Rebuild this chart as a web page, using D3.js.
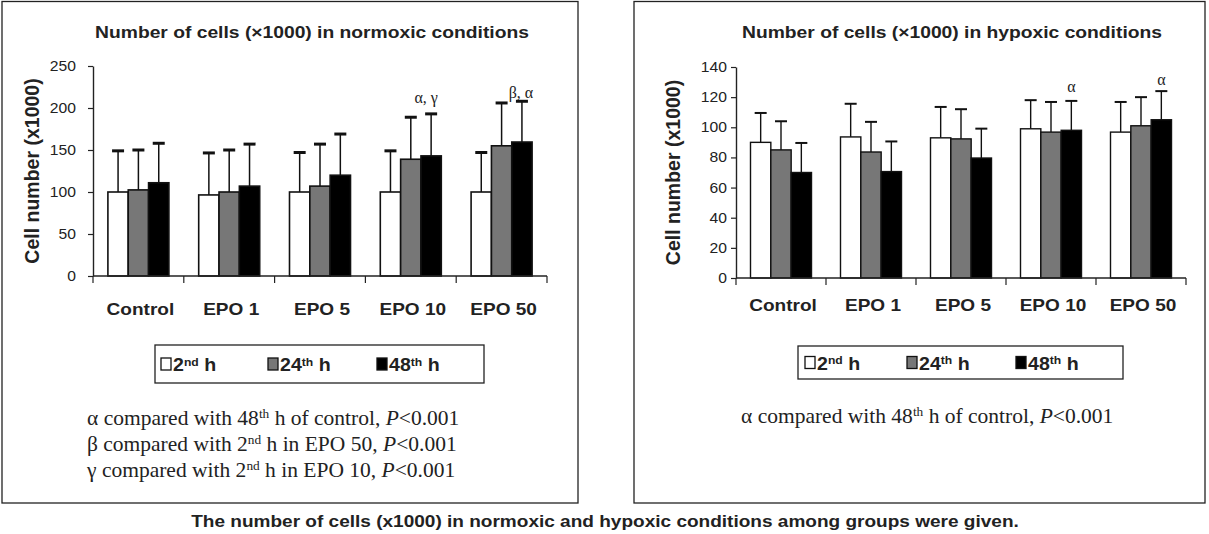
<!DOCTYPE html>
<html>
<head>
<meta charset="utf-8">
<script src="https://cdn.jsdelivr.net/npm/d3@7/dist/d3.min.js"></script>
<style>
  body { margin: 0; background: #fff; }
  svg { display: block; }
  .sans { font-family: "Liberation Sans", Arial, sans-serif; }
  .serif { font-family: "Liberation Serif", "Times New Roman", serif; }
</style>
</head>
<body>
<svg id="chart" width="1209" height="534"></svg>
<script>
// groups and series
var groups = ["Control", "EPO 1", "EPO 5", "EPO 10", "EPO 50"];
var seriesNames = ["2nd h", "24th h", "48th h"];
var seriesColors = ["#ffffff", "#777777", "#000000"];

// normoxic: means and SD (x1000 cells)
var normo2 = [100, 96.5, 100, 100, 100];
var normo24 = [102.5, 100, 107, 139, 155];
var normo48 = [111, 107, 120, 143, 159.5];
var normo2Sd = [49, 50, 47, 49, 47];
var normo24Sd = [47.5, 50, 50, 50, 51];
var normo48Sd = [47, 50, 49, 50, 48.5];
var normoTicks = [0, 50, 100, 150, 200, 250];

// hypoxic
var hypo2 = [90, 93.6, 93, 99, 96.8];
var hypo24 = [85, 83.6, 92.3, 96.8, 101];
var hypo48 = [70, 70.6, 79.6, 98, 105];
var hypo2Sd = [19.5, 22, 20.5, 19, 20];
var hypo24Sd = [19, 20, 19.7, 20, 19];
var hypo48Sd = [19.6, 20, 19.5, 19.5, 19];
var hypoTicks = [0, 20, 40, 60, 80, 100, 120, 140];

// significance marks (placed over the 48th h bar)
var normoMarks = [{group: "EPO 10", text: "α, γ", dx: -5, dy: -11}, {group: "EPO 50", text: "β, α", dx: -1, dy: -3}];
var hypoMarks = [{group: "EPO 10", text: "α", dx: 0, dy: -9}, {group: "EPO 50", text: "α", dx: 0, dy: -6}];

var SX = 1.12; //sans text runs a bit wide in the original
var svg = d3.select("#chart");

//panel frames
svg.append("rect").attr("x", 2).attr("y", 1.5).attr("width", 576).attr("height", 501.5)
    .attr("fill", "none").attr("stroke", "#222").attr("stroke-width", 1.3);
svg.append("rect").attr("x", 634).attr("y", 1.5).attr("width", 571).attr("height", 501.5)
    .attr("fill", "none").attr("stroke", "#222").attr("stroke-width", 1.3);

function sansText(parent, x, y, size, anchor){
    return parent.append("text").attr("class", "sans")
        .attr("transform", "translate(" + x + "," + y + ") scale(" + SX + ",1)")
        .attr("text-anchor", anchor || "start")
        .attr("font-size", size + "px").attr("font-weight", "bold").attr("fill", "#222");
}

function sup(sel, base, s, rest){
    sel.append("tspan").text(base);
    sel.append("tspan").attr("font-size", "0.62em").attr("dy", "-0.5em").text(s);
    sel.append("tspan").attr("dy", "0.31em").text(rest);
}

function drawPanel(cfg){
    var g = svg.append("g");
    var means = cfg.means, sds = cfg.sds;

    var x = d3.scaleBand().domain(groups).range([cfg.x0, cfg.x1]).padding(0);
    var bw = x.bandwidth();
    var xs = d3.scaleBand().domain(d3.range(3)).range([(bw - 61) / 2, (bw + 61) / 2]).padding(0);
    var y = d3.scaleLinear().domain([0, d3.max(cfg.ticks)]).range([cfg.y0, cfg.y1]);

    //title
    sansText(g, cfg.titleX, 37.5, 17.2, "middle").text(cfg.title);

    //y axis
    var yAxis = g.append("g")
        .attr("transform", "translate(" + cfg.x0 + ",0)")
        .call(d3.axisLeft(y).tickValues(cfg.ticks).tickSize(5).tickPadding(cfg.tickPad).tickSizeOuter(0));
    yAxis.select(".domain").attr("stroke", "#222").attr("stroke-width", 1.4);
    yAxis.selectAll(".tick line").attr("stroke", "#222").attr("stroke-width", 1.2);
    yAxis.selectAll(".tick text").attr("class", "sans")
        .attr("x", -(5 + cfg.tickPad) / SX)
        .attr("transform", "scale(" + SX + ",1)")
        .attr("font-size", "14px").attr("fill", "#222");

    g.append("text").attr("class", "sans")
        .attr("transform", "translate(" + cfg.ylabX + "," + (cfg.y0 + cfg.y1) / 2 + ") rotate(-90)")
        .attr("text-anchor", "middle")
        .attr("font-size", "19.5px").attr("font-weight", "bold").attr("fill", "#222")
        .text("Cell number (x1000)");

    //bars
    var rows = [];
    groups.forEach(function(grp, i){
        for(var s = 0; s < 3; s++){
            rows.push({group: grp, s: s, v: means[s][i], sd: sds[s][i]});
        }
    });
    var bars = g.selectAll(".bar").data(rows).enter().append("g").attr("class", "bar");
    bars.append("line")
        .attr("x1", function(d){return x(d.group) + xs(d.s) + xs.bandwidth() / 2;})
        .attr("x2", function(d){return x(d.group) + xs(d.s) + xs.bandwidth() / 2;})
        .attr("y1", function(d){return y(d.v);})
        .attr("y2", function(d){return y(d.v + d.sd);})
        .attr("stroke", "#111").attr("stroke-width", cfg.errW);
    bars.append("line")
        .attr("x1", function(d){return x(d.group) + xs(d.s) + xs.bandwidth() / 2 - 6;})
        .attr("x2", function(d){return x(d.group) + xs(d.s) + xs.bandwidth() / 2 + 6;})
        .attr("y1", function(d){return y(d.v + d.sd);})
        .attr("y2", function(d){return y(d.v + d.sd);})
        .attr("stroke", "#111").attr("stroke-width", cfg.capW);
    bars.append("rect")
        .attr("x", function(d){return x(d.group) + xs(d.s);})
        .attr("width", xs.bandwidth())
        .attr("y", function(d){return y(d.v);})
        .attr("height", function(d){return y(0) - y(d.v);})
        .attr("fill", function(d){return seriesColors[d.s];})
        .attr("stroke", "#111").attr("stroke-width", cfg.barW);

    //x axis with ticks on category boundaries
    g.append("line").attr("x1", cfg.x0).attr("x2", cfg.x1).attr("y1", y(0)).attr("y2", y(0))
        .attr("stroke", "#222").attr("stroke-width", 1.4);
    var bounds = groups.map(function(d){return x(d);}).concat([cfg.x1]);
    g.selectAll(".xtick").data(bounds).enter().append("line")
        .attr("x1", function(d){return d;}).attr("x2", function(d){return d;})
        .attr("y1", y(0)).attr("y2", y(0) + 7)
        .attr("stroke", "#222").attr("stroke-width", 1.2);
    groups.forEach(function(d){
        sansText(g, x(d) + bw / 2 + 2, cfg.y0 + cfg.labDy, 17, "middle").text(d);
    });

    //significance marks
    g.selectAll(".mark").data(cfg.marks).enter().append("text").attr("class", "serif")
        .attr("x", function(d){return x(d.group) + xs(2) + xs.bandwidth() / 2 + d.dx;})
        .attr("y", function(d){
            var i = groups.indexOf(d.group);
            return y(means[2][i] + sds[2][i]) + d.dy;
        })
        .attr("text-anchor", "middle")
        .attr("font-size", "16px").attr("fill", "#222")
        .text(function(d){return d.text;});

    //legend
    var lg = g.append("g");
    lg.append("rect").attr("x", cfg.legX).attr("y", cfg.legY).attr("width", cfg.legW).attr("height", cfg.legH)
        .attr("fill", "none").attr("stroke", "#222").attr("stroke-width", 1.3);
    var supParts = [["2", "nd", " h"], ["24", "th", " h"], ["48", "th", " h"]];
    seriesNames.forEach(function(n, i){
        var ix = cfg.legX + cfg.legItemX[i];
        lg.append("rect").attr("x", ix).attr("y", cfg.legY + cfg.legH / 2 - 6)
            .attr("width", 10).attr("height", 12)
            .attr("fill", seriesColors[i]).attr("stroke", "#111").attr("stroke-width", 1.3);
        var t = sansText(lg, ix + 12, cfg.legY + cfg.legH / 2 + 7, 17.5);
        sup(t, supParts[i][0], supParts[i][1], supParts[i][2]);
    });

    //footnotes
    cfg.notes.forEach(function(nt, k){
        var t = g.append("text").attr("class", "serif")
            .attr("x", cfg.noteX).attr("y", cfg.noteY + k * 26)
            .attr("font-size", "21.5px").attr("fill", "#222");
        t.append("tspan").text(nt[0]);
        t.append("tspan").attr("font-size", "0.62em").attr("dy", "-0.5em").text(nt[1]);
        t.append("tspan").attr("dy", "0.31em").text(nt[2]);
        t.append("tspan").attr("font-style", "italic").text("P");
        t.append("tspan").text("<0.001");
    });
}

drawPanel({
    title: "Number of cells (×1000) in normoxic conditions",
    titleX: 312,
    means: [normo2, normo24, normo48], sds: [normo2Sd, normo24Sd, normo48Sd],
    ticks: normoTicks, marks: normoMarks,
    x0: 93, x1: 547, y0: 276, y1: 66, ylabX: 38.5, tickPad: 12, labDy: 39,
    errW: 1.5, capW: 3, barW: 1.6,
    legX: 155, legY: 345, legW: 329, legH: 38, legItemX: [6, 113, 222],
    notes: [["α compared with 48", "th", " h of control, "],
            ["β compared with 2", "nd", " h in EPO 50, "],
            ["γ compared with 2", "nd", " h in EPO 10, "]],
    noteX: 87, noteY: 425
});

drawPanel({
    title: "Number of cells (×1000) in hypoxic conditions",
    titleX: 952,
    means: [hypo2, hypo24, hypo48], sds: [hypo2Sd, hypo24Sd, hypo48Sd],
    ticks: hypoTicks, marks: hypoMarks,
    x0: 736, x1: 1186, y0: 278, y1: 67, ylabX: 680, tickPad: 4, labDy: 33,
    errW: 1.4, capW: 2, barW: 1.4,
    legX: 798, legY: 346, legW: 325, legH: 33, legItemX: [7, 109, 218],
    notes: [["α compared with 48", "th", " h of control, "]],
    noteX: 741, noteY: 423
});

//caption
sansText(svg, 605, 527, 17, "middle")
    .text("The number of cells (x1000) in normoxic and hypoxic conditions among groups were given.");
</script>
</body>
</html>
